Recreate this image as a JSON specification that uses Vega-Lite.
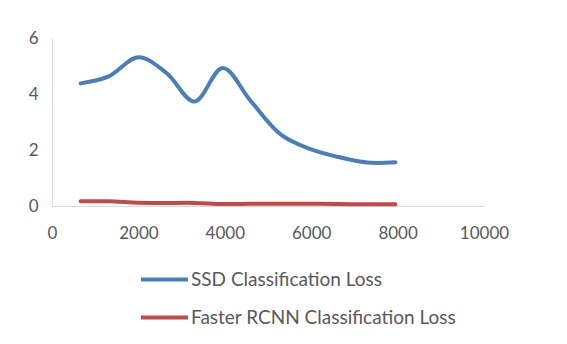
{
  "$schema": "https://vega.github.io/schema/vega-lite/v6.json",
  "width": 432,
  "height": 168,
  "autosize": {"type": "none"},
  "padding": {"left": 52, "top": 38, "right": 83, "bottom": 138},
  "background": "white",
  "config": {
    "view": {"stroke": null},
    "font": "Lato",
    "axis": {"labelFont": "Lato", "labelFontSize": 17, "labelColor": "#595959", "grid": false, "ticks": false, "domainColor": "#d9d9d9", "domainWidth": 1, "title": null},
    "legend": {"labelFont": "Lato", "labelFontSize": 19, "labelColor": "#595959", "labelLimit": 400}
  },
  "data": {
    "values": [
      {"iter": 664, "loss": 4.38, "series": "SSD Classification Loss"},
      {"iter": 1300, "loss": 4.62, "series": "SSD Classification Loss"},
      {"iter": 2000, "loss": 5.31, "series": "SSD Classification Loss"},
      {"iter": 2650, "loss": 4.75, "series": "SSD Classification Loss"},
      {"iter": 3300, "loss": 3.73, "series": "SSD Classification Loss"},
      {"iter": 3950, "loss": 4.93, "series": "SSD Classification Loss"},
      {"iter": 4600, "loss": 3.75, "series": "SSD Classification Loss"},
      {"iter": 5300, "loss": 2.55, "series": "SSD Classification Loss"},
      {"iter": 5950, "loss": 2.05, "series": "SSD Classification Loss"},
      {"iter": 6600, "loss": 1.76, "series": "SSD Classification Loss"},
      {"iter": 7300, "loss": 1.55, "series": "SSD Classification Loss"},
      {"iter": 7950, "loss": 1.56, "series": "SSD Classification Loss"},
      {"iter": 664, "loss": 0.17, "series": "Faster RCNN Classification Loss"},
      {"iter": 1300, "loss": 0.17, "series": "Faster RCNN Classification Loss"},
      {"iter": 2000, "loss": 0.12, "series": "Faster RCNN Classification Loss"},
      {"iter": 2650, "loss": 0.11, "series": "Faster RCNN Classification Loss"},
      {"iter": 3300, "loss": 0.11, "series": "Faster RCNN Classification Loss"},
      {"iter": 3950, "loss": 0.07, "series": "Faster RCNN Classification Loss"},
      {"iter": 4600, "loss": 0.08, "series": "Faster RCNN Classification Loss"},
      {"iter": 5300, "loss": 0.08, "series": "Faster RCNN Classification Loss"},
      {"iter": 5950, "loss": 0.08, "series": "Faster RCNN Classification Loss"},
      {"iter": 6600, "loss": 0.07, "series": "Faster RCNN Classification Loss"},
      {"iter": 7300, "loss": 0.06, "series": "Faster RCNN Classification Loss"},
      {"iter": 7950, "loss": 0.06, "series": "Faster RCNN Classification Loss"}
    ]
  },
  "mark": {"type": "line", "interpolate": "catmull-rom", "strokeWidth": 4, "strokeCap": "round"},
  "encoding": {
    "x": {"field": "iter", "type": "quantitative", "scale": {"domain": [0, 10000], "nice": false}, "axis": {"values": [0, 2000, 4000, 6000, 8000, 10000], "format": "d", "labelPadding": 19, "labelFlush": false}},
    "y": {"field": "loss", "type": "quantitative", "scale": {"domain": [0, 6], "nice": false}, "axis": {"values": [0, 2, 4, 6], "format": "d", "labelPadding": 14}},
    "color": {
      "field": "series", "type": "nominal",
      "scale": {"domain": ["SSD Classification Loss", "Faster RCNN Classification Loss"], "range": ["#4a7ebb", "#be4b48"]},
      "legend": {"title": null, "orient": "none", "direction": "vertical", "legendX": 87, "legendY": 216, "symbolType": "stroke", "symbolSize": 2209, "symbolStrokeWidth": 4, "rowPadding": 2, "labelOffset": 1}
    }
  }
}
